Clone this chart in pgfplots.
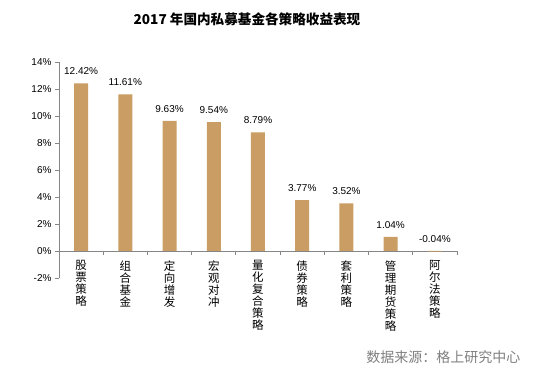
\documentclass[border=0pt]{standalone}
\usepackage{pgfplots}
\pgfplotsset{compat=1.18}
\usepackage{pgfplotstable}
\usepackage{fontspec}
\setmainfont{Liberation Sans}
\newfontfamily\cjk{Noto Sans CJK SC}
\definecolor{barc}{HTML}{C99D63}
\definecolor{axc}{HTML}{868686}
\definecolor{srcc}{HTML}{7F7F7F}
\pgfplotstableread{
x v ly lab
0 12.42 12.42 12.42
1 11.61 11.61 11.61
2 9.63 9.63 9.63
3 9.54 9.54 9.54
4 8.79 8.79 8.79
5 3.77 3.77 3.77
6 3.52 3.52 3.52
7 1.04 1.04 1.04
8 -0.04 0 -0.04
}\data
\begin{document}
\begin{tikzpicture}[x=1pt,y=1pt]
\path[use as bounding box] (0,0) rectangle (541,377);
\begin{axis}[
  at={(59pt,99pt)}, anchor=south west,
  scale only axis, width=398pt, height=216pt,
  xmin=-0.5, xmax=8.5, ymin=-2, ymax=14,
  axis x line=middle, axis y line=left,
  axis line style={draw=axc, line width=0.8pt, -},
  /pgf/number format/assume math mode=true,
  ytick={-2,0,2,4,6,8,10,12,14},
  yticklabel={\pgfmathprintnumber{\tick}\%},
  yticklabel style={font=\fontsize{10}{12}\selectfont},
  tick align=outside,
  major tick length=4pt,
  tick style={draw=axc, line width=0.8pt},
  xtick={0.5,1.5,2.5,3.5,4.5,5.5,6.5,7.5,8.5},
  xticklabels={},
  extra x ticks={0,1,2,3,4,5,6,7,8},
  extra x tick labels={{股\\票\\策\\略},{组\\合\\基\\金},{定\\向\\增\\发},{宏\\观\\对\\冲},{量\\化\\复\\合\\策\\略},{债\\券\\策\\略},{套\\利\\策\\略},{管\\理\\期\\货\\策\\略},{阿\\尔\\法\\策\\略}},
  extra x tick style={major tick length=0pt, xticklabel style={anchor=north, align=center, font=\cjk\fontsize{11.5}{12}\selectfont, yshift=-6pt}},
  clip=false,
]
\addplot[ybar, bar width=14pt, fill=barc, draw=none] table[x=x, y=v] {\data};
\addplot[draw=none, mark=none, point meta=explicit symbolic,
  nodes near coords={\pgfplotspointmeta\%},
  every node near coord/.append style={font=\fontsize{10}{12}\selectfont, anchor=south, yshift=5pt}]
  table[x=x, y=ly, meta=lab] {\data};
\end{axis}
\node[font=\cjk\bfseries\fontsize{13.6}{15}\selectfont] at (247,358) {2017 年国内私募基金各策略收益表现};
\node[anchor=east, font=\cjk\fontsize{14}{16}\selectfont, text=srcc] at (524,20) {数据来源：格上研究中心};
\end{tikzpicture}
\end{document}
